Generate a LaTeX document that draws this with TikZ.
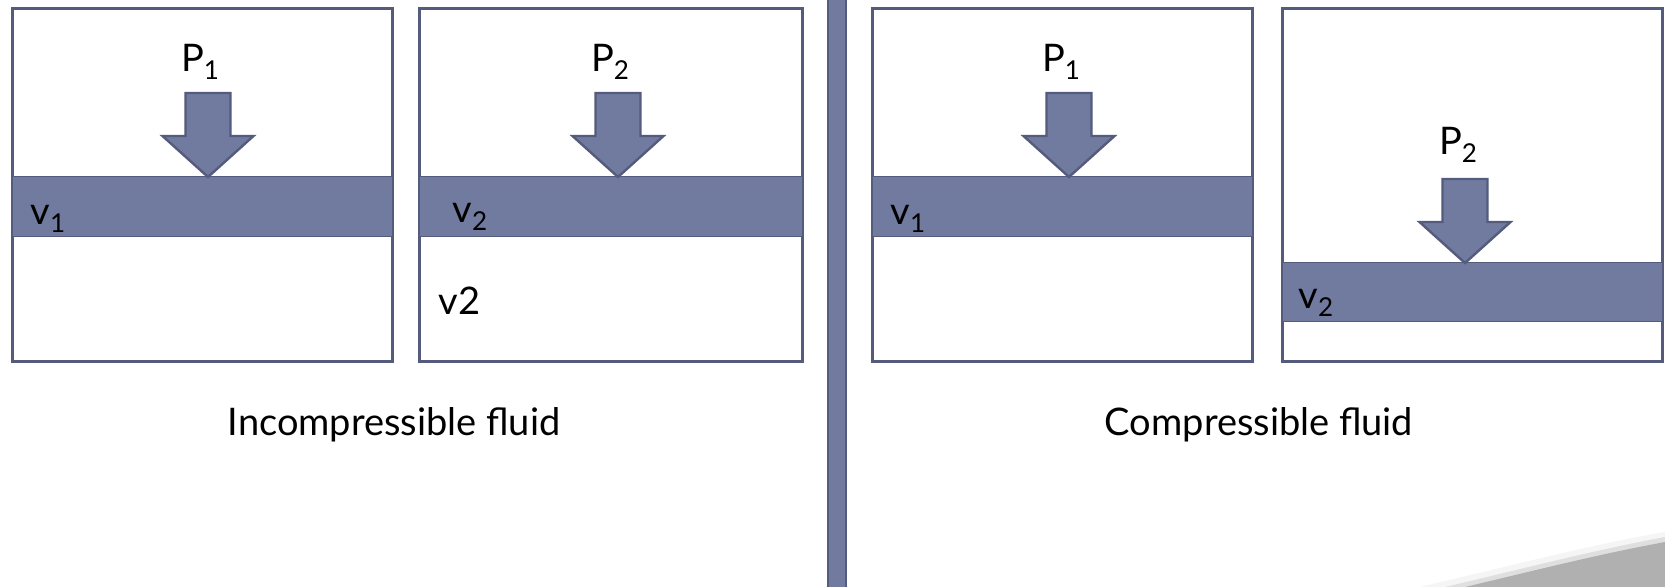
\documentclass[tikz,border=0pt]{standalone}
\usepackage{fontspec}
\setmainfont{Lato}
\usepackage{tikz}

\definecolor{pistonblue}{RGB}{113,123,160}
\definecolor{pistonedge}{RGB}{84,91,124}
\newcommand{\lowsub}[1]{\raisebox{-4pt}{\fontsize{13}{15}\selectfont #1}}
\newcommand{\pistonarrow}[2]{%
  \draw[arrowbox, shift={(#1,#2)}] (-22.5,-84) -- (22.5,-84) -- (22.5,-41) -- (45.5,-41)
    -- (0,0) -- (-45.5,-41) -- (-22.5,-41) -- cycle;}

\tikzset{
  vessel/.style={draw=pistonedge, line width=1.5pt, fill=white},
  piston/.style={fill=pistonblue, draw=pistonedge, line width=0.5pt},
  arrowbox/.style={fill=pistonblue, draw=pistonedge, line width=1.2pt, line join=miter},
  label/.style={inner sep=0pt, font=\fontsize{19}{22}\selectfont},
}

\begin{document}
\begin{tikzpicture}[x=0.5pt, y=-0.5pt]
 \useasboundingbox (0,0) rectangle (1665,587);
 \fill[white] (0,0) rectangle (1665,587);
 \begin{scope}
  \draw[vessel] (12,9) rectangle (392,362);
  \fill[piston] (12,177) rectangle (392,237);
  \pistonarrow{208}{177}
  \node[label, anchor=base] (p1a) at (200,72) {P\lowsub{1}};
  \node[label, anchor=base west] (v1a) at (30,225) {v\lowsub{1}};
  \draw[vessel] (419,9) rectangle (802,362);
  \fill[piston] (419,177) rectangle (802,237);
  \pistonarrow{618}{177}
  \node[label, anchor=base] (p2a) at (610,72) {P\lowsub{2}};
  \node[label, anchor=base west] (v2a) at (452,223) {v\lowsub{2}};
  \node[label, anchor=base west] (v2b) at (438,315) {v2};
  \node[label, anchor=base] (incomp) at (394,436) {Incompressible fluid};
 \end{scope}
  \draw[piston, line width=1pt] (828,-2) rectangle (846,589);
 \begin{scope}
  \draw[vessel] (872,9) rectangle (1252,362);
  \fill[piston] (872,177) rectangle (1252,237);
  \pistonarrow{1069}{177}
  \node[label, anchor=base] (p1b) at (1061,72) {P\lowsub{1}};
  \node[label, anchor=base west] (v1b) at (890,225) {v\lowsub{1}};
  \draw[vessel] (1282,9) rectangle (1662,362);
  \fill[piston] (1282,263) rectangle (1662,322);
  \pistonarrow{1465}{263}
  \node[label, anchor=base] (p2b) at (1458,155) {P\lowsub{2}};
  \node[label, anchor=base west] (v2c) at (1298,309) {v\lowsub{2}};
  \node[label, anchor=base] (comp) at (1259,436) {Compressible fluid};
 \end{scope}
  \fill[gray!8] (1420,587) .. controls (1510,566) and (1590,545) .. (1665,532) -- (1665,587) -- cycle;
  \fill[gray!25] (1445,587) .. controls (1530,567) and (1595,550) .. (1665,537) -- (1665,587) -- cycle;
  \fill[gray!62] (1465,587) .. controls (1545,568) and (1600,554) .. (1665,542) -- (1665,587) -- cycle;
\end{tikzpicture}
\end{document}
